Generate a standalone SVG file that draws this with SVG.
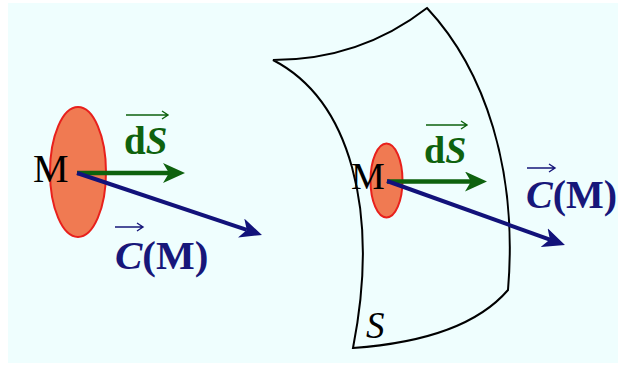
<svg xmlns="http://www.w3.org/2000/svg" width="618" height="367" viewBox="0 0 618 367">
<style>
.m{font-family:"Liberation Serif","Times New Roman",serif;fill:#000}
.lbl{font-family:"Liberation Serif","Times New Roman",serif;font-weight:bold}
.g{fill:#0e620e}
.b{fill:#17177a}
.it{font-style:italic}
.disk{fill:#f07a52;stroke:#e8201c;stroke-width:2}
.ga{stroke:#0e620e;stroke-width:4.5;fill:none}
.ba{stroke:#12127a;stroke-width:4;fill:none}
.vg{stroke:#0e620e;stroke-width:1.4;fill:none}
.vb{stroke:#17177a;stroke-width:1.4;fill:none}
</style>
<defs>
<marker id="hg" viewBox="0 0 22 20" refX="6" refY="10" markerWidth="22" markerHeight="20" markerUnits="userSpaceOnUse" orient="auto">
<path d="M0,0 L22,10 L0,20 L6,10 z" fill="#0e620e"/>
</marker>
<marker id="hb" viewBox="0 0 22 20" refX="6" refY="10" markerWidth="22" markerHeight="20" markerUnits="userSpaceOnUse" orient="auto">
<path d="M0,0 L22,10 L0,20 L6,10 z" fill="#12127a"/>
</marker>
</defs>
<rect x="0" y="0" width="618" height="367" fill="#ffffff"/>
<rect x="8" y="3" width="610" height="360" fill="#effefe"/>

<g id="surface">
<path d="M273,60 Q360,60 427,8 C485,70 518,170 508,290 Q465,340 353,348 C380,210 350,100 273,60 Z" fill="none" stroke="#000" stroke-width="2" stroke-linejoin="miter"/>
<text class="m it" x="366" y="338" font-size="37">S</text>
</g>

<g id="element-left">
<ellipse class="disk" cx="78" cy="172" rx="28" ry="65"/>
<text class="m" x="33" y="182" font-size="40">M</text>
</g>

<g id="element-right">
<ellipse class="disk" cx="386.5" cy="180.5" rx="16" ry="37"/>
<text class="m" x="351" y="189" font-size="38">M</text>
</g>

<g id="connectors">
<line class="ga" x1="77" y1="173" x2="169" y2="173" marker-end="url(#hg)"/>
<line class="ba" x1="77" y1="173" x2="246.8" y2="229.9" marker-end="url(#hb)"/>
<line class="ga" x1="387" y1="181.5" x2="471" y2="181.5" marker-end="url(#hg)"/>
<line class="ba" x1="387" y1="181" x2="549.9" y2="239.6" marker-end="url(#hb)"/>
</g>

<g id="labels-left">
<text class="lbl g" x="124" y="154" font-size="39">d<tspan class="it">S</tspan></text>
<path class="vg" d="M126,115 H168 M162,111 L168,115 L162,119"/>
<text class="lbl b" x="115" y="269" font-size="41"><tspan class="it">C</tspan>(M)</text>
<path class="vb" d="M115,227 H143 M137,223 L143,227 L137,231"/>
</g>

<g id="labels-right">
<text class="lbl g" x="424" y="163" font-size="38">d<tspan class="it">S</tspan></text>
<path class="vg" d="M426,125 H467 M461,121 L467,125 L461,129"/>
<text class="lbl b" x="526" y="208" font-size="40"><tspan class="it">C</tspan>(M)</text>
<path class="vb" d="M527,168 H555 M549,164 L555,168 L549,172"/>
</g>
</svg>
